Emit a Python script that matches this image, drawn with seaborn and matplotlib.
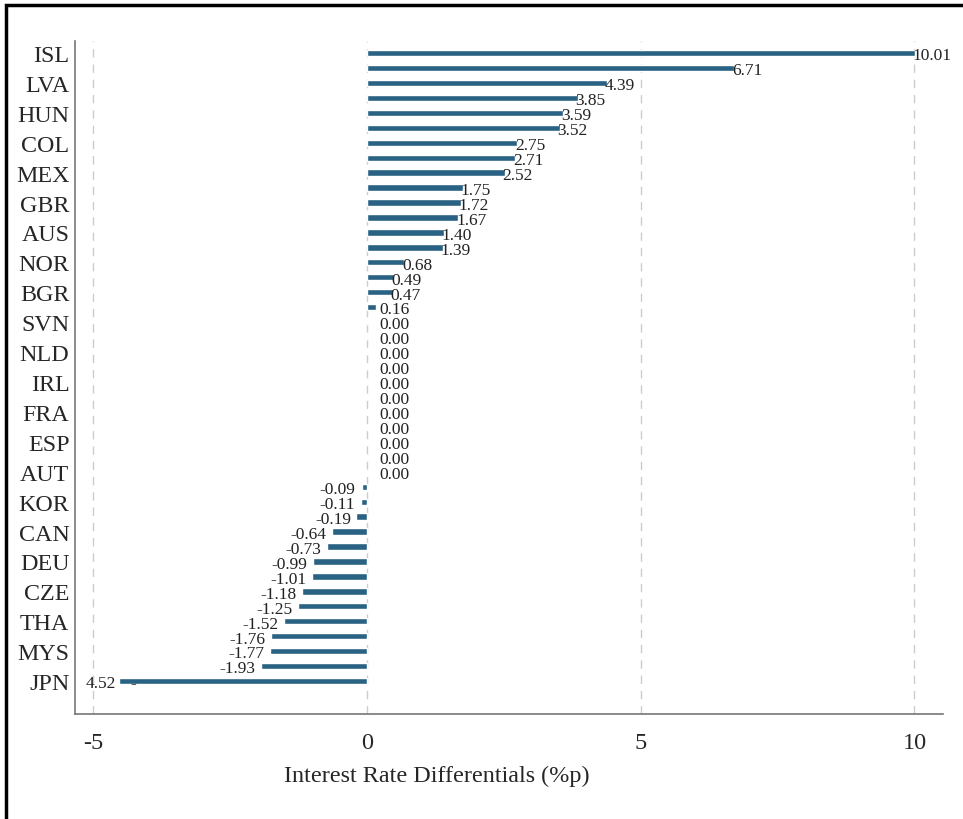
import matplotlib
matplotlib.use("Agg")
import matplotlib.pyplot as plt
import seaborn as sns
import pandas as pd
from matplotlib.patches import Rectangle

countries = ["ISL", "CHL", "LVA", "POL", "HUN", "ROU", "COL", "NZL", "MEX", "USA",
             "GBR", "ISR", "AUS", "SWE", "NOR", "DNK", "BGR", "LTU", "SVN", "SVK",
             "NLD", "LUX", "IRL", "ITA", "FRA", "BEL", "ESP", "PRT", "AUT", "HRV",
             "KOR", "EST", "CAN", "GRC", "DEU", "FIN", "CZE", "CYP", "THA", "MLT",
             "MYS", "CHE", "JPN"]
values = [10.01, 6.71, 4.39, 3.85, 3.59, 3.52, 2.75, 2.71, 2.52, 1.75,
          1.72, 1.67, 1.40, 1.39, 0.68, 0.49, 0.47, 0.16, 0.00, 0.00,
          0.00, 0.00, 0.00, 0.00, 0.00, 0.00, 0.00, 0.00, 0.00, -0.09,
          -0.11, -0.19, -0.64, -0.73, -0.99, -1.01, -1.18, -1.25, -1.52, -1.76,
          -1.77, -1.93, -4.52]
x_ticks = [-5, 0, 5, 10]
x_label = "Interest Rate Differentials (%p)"

df = pd.DataFrame({"country": countries, "value": values})

sns.set_style("white")
plt.rcParams["font.family"] = ["Liberation Serif", "DejaVu Serif"]

fig = plt.figure(figsize=(9.63, 8.2), dpi=100)
ax = fig.add_axes([0.0779, 0.128, 0.9013, 0.8208])

bar_color = "#2a6283"
sns.barplot(data=df, x="value", y="country", order=countries, orient="h",
            color=bar_color, saturation=1, width=0.42, ax=ax, zorder=3)

ax.set_xlim(-5.33, 10.52)
ax.set_ylim(44.2, -0.8)
ax.set_xticks(x_ticks)
ax.set_xticklabels([str(t) for t in x_ticks], fontsize=17.5)
ax.set_yticks(range(0, len(countries), 2))
ax.set_yticklabels(countries[::2], fontsize=17.3)
ax.set_xlabel(x_label, fontsize=17.4)
ax.xaxis.set_label_coords(0.417, -0.075)
ax.set_ylabel("")

for t in x_ticks:
    ax.axvline(t, color="#cccccc", lw=1, ls=(0, (6, 5)), zorder=1)

for s in ["top", "right"]:
    ax.spines[s].set_visible(False)
for s in ["left", "bottom"]:
    ax.spines[s].set_color("#777777")
    ax.spines[s].set_linewidth(1.2)
ax.tick_params(axis="x", length=6, color="#777777", direction="out", pad=7)
ax.tick_params(axis="y", length=0, pad=4)

txt_color = "#222222"
for i, v in enumerate(values):
    y = i + 0.15
    if i == len(values) - 1:
        ax.text(v - 0.06, y, f"{abs(v):.2f}", ha="right", va="center",
                fontsize=12.5, color=txt_color, zorder=2)
        ax.text(v + 0.26, y - 0.05, "-", ha="center", va="center",
                fontsize=12.5, color=txt_color, zorder=4)
    elif v >= 0:
        ax.text(max(v - 0.04, 0.22), y, f"{v:.2f}", ha="left", va="center",
                fontsize=12.5, color=txt_color, zorder=4)
    else:
        xx = v - 0.1 if v < -0.15 else -0.22
        ax.text(xx, y, f"{v:.2f}", ha="right", va="center",
                fontsize=12.5, color=txt_color, zorder=4)

fig.patches.append(Rectangle((6 / 963, -0.1), 1.2, 1.1 - 6 / 820,
                             transform=fig.transFigure, fill=False,
                             edgecolor="black", lw=2.5, zorder=10))

fig.savefig("out.png", dpi=100)
